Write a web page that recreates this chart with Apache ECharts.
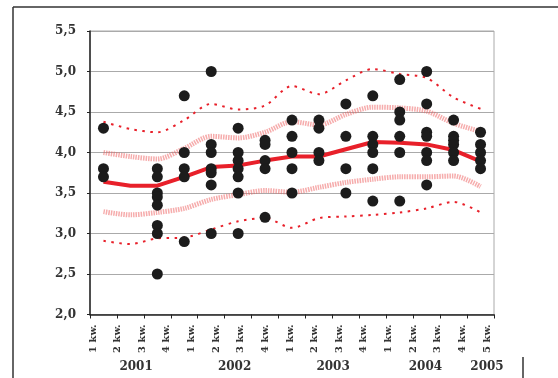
<!DOCTYPE html>
<html>
<head>
<meta charset="utf-8">
<script src="https://cdn.jsdelivr.net/npm/echarts@6/dist/echarts.min.js"></script>
<style>
  html, body { margin: 0; padding: 0; background: #fff; }
  #chart { width: 558px; height: 378px; }
</style>
</head>
<body>
<div id="chart"></div>
<script>
// Quarterly survey scores, one column of points per quarter
const periods = ['1','2','3','4','5','6','7','8','9','10','11','12','13','14','15'];
const quarterScores = [
  [4.3, 3.8, 3.7],
  [],
  [3.8, 3.7, 3.5, 3.45, 3.35, 3.1, 3.0, 2.5],
  [4.7, 4.0, 3.8, 3.7, 2.9],
  [5.0, 4.1, 4.0, 3.8, 3.75, 3.6, 3.0],
  [4.3, 4.0, 3.9, 3.8, 3.7, 3.5, 3.0],
  [4.15, 4.1, 3.9, 3.8, 3.2],
  [4.4, 4.2, 4.0, 3.8, 3.5],
  [4.4, 4.3, 4.0, 3.9],
  [4.6, 4.2, 3.8, 3.5],
  [4.7, 4.2, 4.1, 4.0, 3.8, 3.4],
  [4.9, 4.5, 4.4, 4.2, 4.0, 3.4],
  [5.0, 4.6, 4.25, 4.2, 4.0, 3.9, 3.6],
  [4.4, 4.2, 4.15, 4.1, 4.0, 3.9],
  [4.25, 4.1, 4.0, 3.9, 3.8]
];
// Average and band lines
const meanLine   = [3.64, 3.59, 3.59, 3.70, 3.82, 3.84, 3.90, 3.95, 3.95, 4.04, 4.13, 4.12, 4.10, 4.03, 3.89];
const innerUpper = [4.00, 3.95, 3.92, 4.05, 4.20, 4.18, 4.25, 4.38, 4.34, 4.47, 4.56, 4.55, 4.51, 4.36, 4.26];
const innerLower = [3.27, 3.23, 3.26, 3.31, 3.42, 3.48, 3.53, 3.51, 3.57, 3.63, 3.67, 3.70, 3.70, 3.71, 3.58];
const outerUpper = [4.38, 4.29, 4.25, 4.40, 4.60, 4.53, 4.58, 4.82, 4.72, 4.89, 5.03, 4.97, 4.92, 4.68, 4.54];
const outerLower = [2.91, 2.87, 2.94, 2.95, 3.05, 3.15, 3.19, 3.07, 3.19, 3.21, 3.23, 3.26, 3.31, 3.39, 3.26];
// Axis texts
const quarterLabels = ['1 kw.','2 kw.','3 kw.','4 kw.','1 kw.','2 kw.','3 kw.','4 kw.',
                       '1 kw.','2 kw.','3 kw.','4 kw.','1 kw.','2 kw.','3 kw.','4 kw.','5 kw.'];
const years = ['2001', '2002', '2003', '2004', '2005'];
const yearAt = [1.75, 5.75, 9.75, 13.5, 16];

const scatterData = [];
quarterScores.forEach((vals, i) => vals.forEach(v => scatterData.push([i, v])));

const FONT = 'DejaVu Serif';
const RED = '#e8202a';

const chart = echarts.init(document.getElementById('chart'), null, { renderer: 'canvas' });

function bandSeries(data, style) {
  return {
    type: 'line', data: data, xAxisIndex: 0, yAxisIndex: 0,
    symbol: 'none', smooth: 0.3, silent: true,
    lineStyle: style, z: 2
  };
}

chart.setOption({
  animation: false,
  grid: [
    { left: 90, right: 64, top: 31, bottom: 63.5, show: true, borderColor: '#aaa', borderWidth: 1 },
    { left: 93, right: 71, top: 31, bottom: 63.5, show: false }
  ],
  xAxis: [
    {
      type: 'category', gridIndex: 0, data: periods, boundaryGap: true, position: 'bottom',
      axisLine: { lineStyle: { color: '#222', width: 1.5 } },
      axisTick: { show: true, length: 4, lineStyle: { color: '#222' } },
      axisLabel: { show: false },
      splitLine: { show: false }
    },
    {
      type: 'category', gridIndex: 1, data: quarterLabels, boundaryGap: false, position: 'bottom',
      axisLine: { show: false }, axisTick: { show: false }, splitLine: { show: false },
      axisLabel: {
        rotate: 90, margin: 10, interval: 0,
        fontFamily: FONT, fontWeight: 'bold', fontSize: 10, color: '#333'
      }
    },
    {
      type: 'value', gridIndex: 1, min: 0, max: 16, interval: 0.25, position: 'bottom', offset: 0,
      axisLine: { show: false, onZero: false }, axisTick: { show: false }, splitLine: { show: false },
      axisLabel: {
        margin: 46, showMinLabel: true, showMaxLabel: true,
        fontFamily: FONT, fontWeight: 'bold', fontSize: 12, color: '#333',
        formatter: v => {
          const k = yearAt.findIndex(p => Math.abs(p - v) < 1e-6);
          return k >= 0 ? years[k] : '';
        }
      }
    }
  ],
  yAxis: [
    {
      type: 'value', gridIndex: 0, min: 2, max: 5.5, interval: 0.5,
      axisLine: { show: true, lineStyle: { color: '#222', width: 1.5 } },
      axisTick: { show: true, length: 3, lineStyle: { color: '#222' } },
      splitLine: { lineStyle: { color: '#aaa', width: 1 } },
      axisLabel: {
        margin: 14, fontFamily: FONT, fontWeight: 'bold', fontSize: 12, color: '#333',
        formatter: v => v.toFixed(1).replace('.', ',')
      }
    },
    { type: 'value', gridIndex: 1, min: 2, max: 5.5, show: false }
  ],
  series: [
    bandSeries(innerUpper, { color: 'rgba(238,90,90,0.5)', width: 5, type: [1.5, 1] }),
    bandSeries(innerLower, { color: 'rgba(238,90,90,0.5)', width: 5, type: [1.5, 1] }),
    bandSeries(outerUpper, { color: RED, width: 2, type: [2.5, 5.5] }),
    bandSeries(outerLower, { color: RED, width: 2, type: [2.5, 5.5] }),
    {
      type: 'line', data: meanLine, xAxisIndex: 0, yAxisIndex: 0,
      symbol: 'none', silent: true, z: 3,
      lineStyle: { color: RED, width: 4 }
    },
    {
      type: 'scatter', data: scatterData, xAxisIndex: 0, yAxisIndex: 0,
      symbol: 'circle', symbolSize: 11, z: 4,
      itemStyle: { color: '#1c1c1c', opacity: 1 }
    }
  ],
  graphic: [
    { type: 'line', shape: { x1: 13, y1: 7, x2: 558, y2: 7 }, style: { stroke: '#333', lineWidth: 1.5 } },
    { type: 'line', shape: { x1: 13, y1: 7, x2: 13, y2: 378 }, style: { stroke: '#333', lineWidth: 1.5 } },
    { type: 'line', shape: { x1: 523, y1: 357, x2: 523, y2: 378 }, style: { stroke: '#333', lineWidth: 1.5 } }
  ]
});
</script>
</body>
</html>
